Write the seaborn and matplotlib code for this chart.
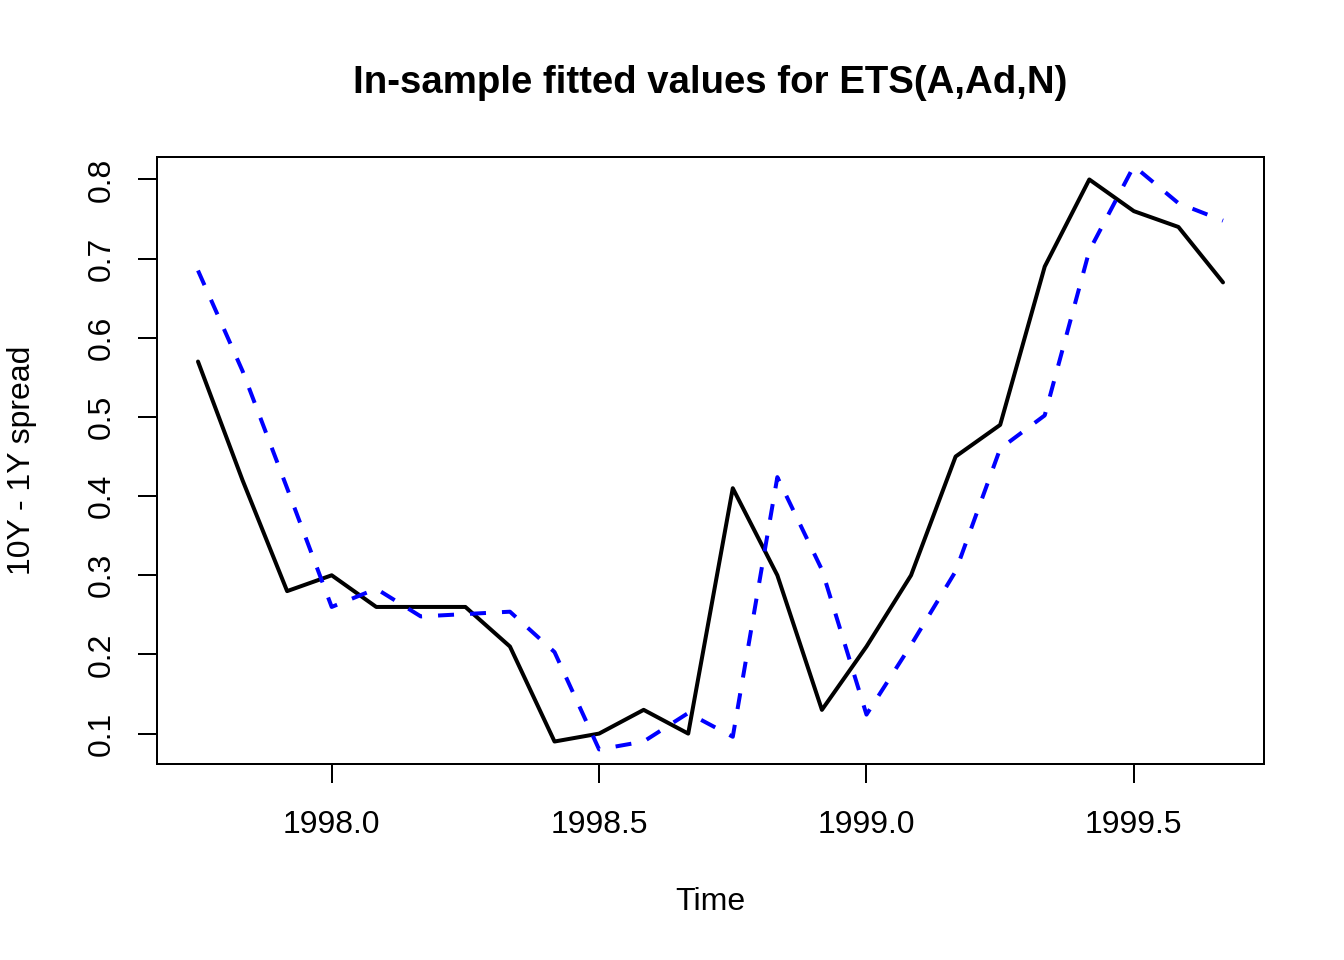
import pandas as pd
import seaborn as sns
import matplotlib.pyplot as plt
from matplotlib.ticker import FixedLocator, FormatStrFormatter

# monthly observations, Oct 1997 - Sep 1999
months = ['1997-10', '1997-11', '1997-12',
          '1998-01', '1998-02', '1998-03', '1998-04', '1998-05', '1998-06',
          '1998-07', '1998-08', '1998-09', '1998-10', '1998-11', '1998-12',
          '1999-01', '1999-02', '1999-03', '1999-04', '1999-05', '1999-06',
          '1999-07', '1999-08', '1999-09']
spread = [0.57, 0.42, 0.28, 0.30, 0.26, 0.26, 0.26, 0.21, 0.09, 0.10, 0.13, 0.10,
          0.41, 0.30, 0.13, 0.21, 0.30, 0.45, 0.49, 0.69, 0.80, 0.76, 0.74, 0.67]
fitted = [0.685, 0.558, 0.41, 0.26, 0.283, 0.248, 0.251, 0.254, 0.203, 0.080, 0.090, 0.126,
          0.096, 0.424, 0.307, 0.124, 0.212, 0.305, 0.46, 0.502, 0.71, 0.817, 0.770, 0.748]
xticks = [1998.0, 1998.5, 1999.0, 1999.5]
yticks = [0.1, 0.2, 0.3, 0.4, 0.5, 0.6, 0.7, 0.8]

# ts-style decimal time (year + (month-1)/12)
per = pd.PeriodIndex(months, freq='M')
time = per.year + (per.month - 1) / 12
df = pd.DataFrame({'Time': time, 'spread': spread, 'fitted': fitted})

sns.set_theme(style='white')
plt.rcParams['font.family'] = ['Liberation Sans', 'DejaVu Sans']
plt.rcParams.update({'text.color': 'black', 'axes.labelcolor': 'black',
                     'xtick.color': 'black', 'ytick.color': 'black'})

fig = plt.figure(figsize=(7, 5), dpi=192)
ax = fig.add_axes([157 / 1344, 1 - 764 / 960, (1264 - 157) / 1344, (764 - 157) / 960])

sns.lineplot(data=df, x='Time', y='spread', color='black', linewidth=1.5, ax=ax)
sns.lineplot(data=df, x='Time', y='fitted', color='blue', linewidth=1.5, ax=ax,
             dashes=False)
ax.lines[1].set_dashes((4, 4))
ax.lines[1].set_dash_capstyle('butt')

# R-like 4% axis extension
xr = df['Time'].max() - df['Time'].min()
ax.set_xlim(df['Time'].min() - 0.04 * xr, df['Time'].max() + 0.04 * xr)
yr = max(spread) - min(spread)
ax.set_ylim(min(spread) - 0.04 * yr, max(spread) + 0.04 * yr)

ax.xaxis.set_major_locator(FixedLocator(xticks))
ax.xaxis.set_major_formatter(FormatStrFormatter('%.1f'))
ax.yaxis.set_major_locator(FixedLocator(yticks))
ax.yaxis.set_major_formatter(FormatStrFormatter('%.1f'))
ax.tick_params(axis='both', direction='out', length=7.2, width=0.75, color='black',
               labelcolor='black', labelsize=12, bottom=True, left=True)
ax.tick_params(axis='x', pad=10)
ax.tick_params(axis='y', pad=8)
for lab in ax.get_yticklabels():
    lab.set_rotation(90)
    lab.set_va('center')

for s in ax.spines.values():
    s.set_visible(True)
    s.set_color('black')
    s.set_linewidth(0.75)

ax.set_xlabel('Time', fontsize=12, color='black')
ax.set_ylabel('10Y - 1Y spread', fontsize=12, color='black')
ax.xaxis.set_label_coords(0.5, (764 - 902) / 607)
ax.xaxis.label.set_va('center')
ax.yaxis.set_label_coords((22 - 157) / 1107, 0.5)
ax.yaxis.label.set_va('center')

fig.text(710 / 1344, 1 - 83 / 960, 'In-sample fitted values for ETS(A,Ad,N)',
         ha='center', va='center', fontsize=14.4, fontweight='bold', color='black')

fig.savefig('out.png', dpi=192, facecolor='white')
